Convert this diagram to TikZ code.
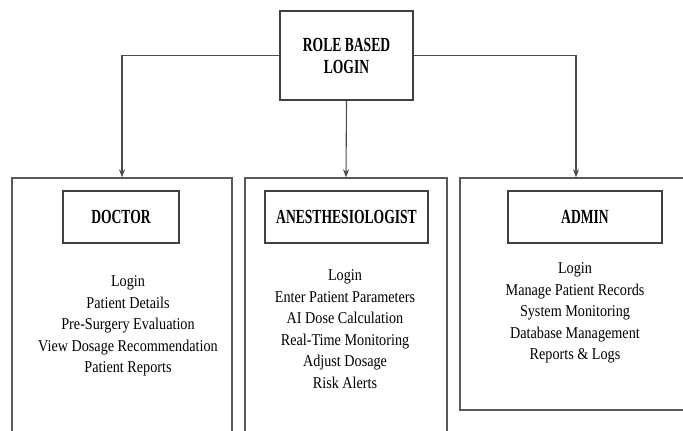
\documentclass[tikz,border=0pt]{standalone}
\usepackage{fontspec}
\setmainfont[FakeStretch=0.86]{Liberation Serif}
\newfontfamily\headfont[FakeStretch=0.68]{Liberation Serif}
\usetikzlibrary{arrows.meta}

\begin{document}
\begin{tikzpicture}[
    x=1pt, y=-1pt, line width=1.1pt,
    panel/.style={draw=gray!70!black, line width=1.4pt, minimum width=#1, inner sep=0pt},
    role/.style={draw=black!75, minimum width=#1, minimum height=52, inner sep=0pt,
        font=\headfont\bfseries\fontsize{20}{22}\selectfont},
    tasks/.style={align=center, font=\fontsize{16.5}{21.5}\selectfont},
    link/.style={draw=black!70, -{Stealth[length=8pt,width=6pt]}},
]
\useasboundingbox (0,0) rectangle (683,431);
\clip (0,0) rectangle (683,431);

\node[draw=black!75, minimum width=133, minimum height=89, align=center,
    font=\headfont\bfseries\fontsize{20}{22}\selectfont] (login) at (346.5,55.5) {ROLE BASED\\LOGIN};

% the three user panels
\node[panel=220, minimum height=290] (doctor) at (122,323) {};
\node[panel=202, minimum height=290] (anest) at (346,323) {};
\node[panel=232, minimum height=232] (admin) at (576,294) {};

\node[role=116] (doctorhead) at (121,217) {DOCTOR};
\node[role=163] (anesthead) at (346.5,217) {ANESTHESIOLOGIST};
\node[role=154] (adminhead) at (585,217) {ADMIN};

\node[tasks] (doctorjobs) at (128,326) {Login\\Patient Details\\Pre-Surgery Evaluation\\View Dosage Recommendation\\Patient Reports};
\node[tasks] (anestjobs) at (345,329) {Login\\Enter Patient Parameters\\AI Dose Calculation\\Real-Time Monitoring\\Adjust Dosage\\Risk Alerts};
\node[tasks] (adminjobs) at (575,313) {Login\\Manage Patient Records\\System Monitoring\\Database Management\\Reports \& Logs};

\draw[link] (login.west) -| (doctor.north);
\draw[link] (login.south) -- (anest.north);
\draw[link] (login.east) -| (admin.north);
\end{tikzpicture}
\end{document}
